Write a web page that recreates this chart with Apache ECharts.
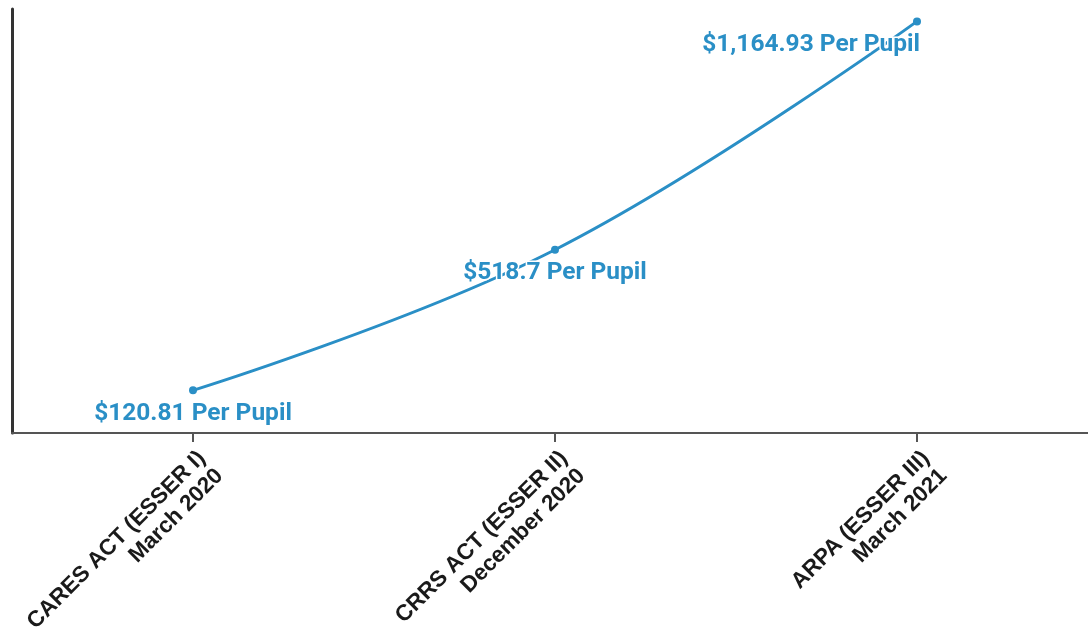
<!DOCTYPE html>
<html>
<head>
<meta charset="utf-8">
<script src="https://cdn.jsdelivr.net/npm/echarts@6/dist/echarts.min.js"></script>
<style>
html,body{margin:0;padding:0;background:#fff;}
#chart{width:1088px;height:627px;}
</style>
</head>
<body>
<div id="chart"></div>
<script>
const categories = ["CARES ACT (ESSER I)\nMarch 2020", "CRRS ACT (ESSER II)\nDecember 2020", "ARPA (ESSER III)\nMarch 2021"];
const perPupil = [120.81, 518.7, 1164.93];
const labelTexts = ["$120.81 Per Pupil", "$518.7 Per Pupil", "$1,164.93 Per Pupil"];

const blue = '#2a8fc6';
const chart = echarts.init(document.getElementById('chart'), null, {renderer: 'canvas'});
const seriesData = perPupil.map((v, i) => {
  const d = {value: v};
  if (i === perPupil.length - 1) {
    d.label = {align: 'right', offset: [3, 0]};
  }
  return d;
});
chart.setOption({
  animation: false,
  grid: {left: 12, right: -10, top: 9, bottom: 194, containLabel: false, outerBoundsMode: 'none'},
  xAxis: {
    type: 'category',
    data: categories,
    boundaryGap: true,
    axisLine: {show: true, lineStyle: {color: '#555', width: 2}},
    axisTick: {show: true, alignWithLabel: true, length: 9, lineStyle: {color: '#555', width: 2}},
    axisLabel: {
      rotate: 45, margin: 13, interval: 0,
      fontFamily: 'Liberation Sans', fontWeight: 'bold', fontSize: 22.5, lineHeight: 25,
      verticalAlign: 'top',
      color: '#1a1a1a'
    },
    splitLine: {show: false}
  },
  yAxis: {
    type: 'value', min: 0, max: 1200,
    axisLine: {show: true, lineStyle: {color: '#333', width: 3}},
    axisTick: {show: false},
    axisLabel: {show: false},
    splitLine: {show: false}
  },
  series: [{
    type: 'line',
    data: seriesData,
    smooth: 0.4,
    symbol: 'circle',
    symbolSize: 8,
    lineStyle: {color: blue, width: 3},
    itemStyle: {color: blue},
    label: {
      show: true,
      position: 'bottom',
      distance: 7,
      formatter: p => labelTexts[p.dataIndex],
      fontFamily: 'Roboto', fontWeight: 'bold', fontSize: 24.5,
      color: blue,
      textBorderColor: '#fff', textBorderWidth: 3
    }
  }]
});
</script>
</body>
</html>
